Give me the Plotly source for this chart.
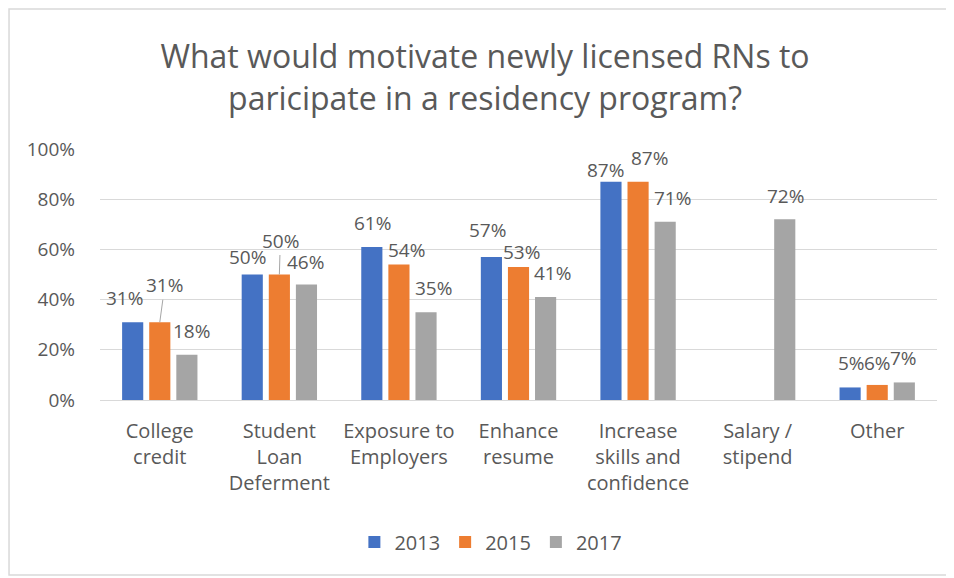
import plotly.graph_objects as go

# --- данные ---
categories = ["College credit", "Student Loan Deferment", "Exposure to Employers",
              "Enhance resume", "Increase skills and confidence", "Salary / stipend", "Other"]
tick_labels = ["College<br>credit", "Student<br>Loan<br>Deferment", "Exposure to<br>Employers",
               "Enhance<br>resume", "Increase<br>skills and<br>confidence", "Salary /<br>stipend", "Other"]
years = ["2013", "2015", "2017"]
v2013 = [0.31, 0.50, 0.61, 0.57, 0.87, None, 0.05]
v2015 = [0.31, 0.50, 0.54, 0.53, 0.87, None, 0.06]
v2017 = [0.18, 0.46, 0.35, 0.41, 0.71, 0.72, 0.07]
y_ticks = [0, 0.2, 0.4, 0.6, 0.8, 1.0]

COLORS = ["#4472C4", "#ED7D31", "#A5A5A5"]
TEXT = "#595959"
GRID = "#D9D9D9"
FONT = "Open Sans"

W, H = 954, 578
# страница сдвигает фигуру на 8 px (отступ body), поэтому поля уменьшены
M = dict(l=92, r=25, t=141, b=186)
BARGAP, GROUPGAP = 0.32, 0.22

# сдвиги подписей (dx, dy в пикселях от верха столбца), как в исходной диаграмме
label_shift = [
    [(-8, -24), (-5, -18), (1, -24), (-4, -27), (-5, -12), None, (1, -24)],
    [(5, -37), (1, -34), (8, -14), (3, -15), (11, -24), None, (0, -22)],
    [(5, -24), (-1, -23), (7, -24), (7, -24), (7, -24), (1, -23), (-1, -24)],
]
leader = {(1, 0), (1, 1)}  # подписи с выносной линией

series = [v2013, v2015, v2017]
fig = go.Figure()
for name, vals, col in zip(years, series, COLORS):
    fig.add_trace(go.Bar(x=categories, y=vals, name=name, marker_color=col,
                         marker_line_width=0))

# смещение столбца внутри группы
cat_w = (W - M["l"] - M["r"]) / len(categories)
slot = cat_w * (1 - BARGAP) / len(years)

annotations = []
for s, vals in enumerate(series):
    off = (s - 1) * slot
    for i, v in enumerate(vals):
        if v is None:
            continue
        dx, dy = label_shift[s][i]
        base = dict(x=categories[i], y=v, xref="x", yref="y", text=f"{round(v * 100)}%",
                    font=dict(family=FONT, size=19, color=TEXT))
        if (s, i) in leader:
            annotations.append(dict(base, showarrow=True, arrowhead=0, arrowwidth=1,
                                    arrowcolor="#A6A6A6", ax=dx, ay=dy, xshift=off,
                                    standoff=0, startstandoff=0))
        else:
            annotations.append(dict(base, showarrow=False, xanchor="center",
                                    yanchor="middle", xshift=off + dx, yshift=-dy))

fig.update_layout(
    width=W, height=H, margin=M,
    paper_bgcolor="white", plot_bgcolor="white",
    font=dict(family=FONT, size=19, color=TEXT),
    title=dict(text="What would motivate newly licensed RNs to<br>paricipate in a residency program?",
               x=0.5, xanchor="center", y=0.896, yanchor="middle",
               font=dict(family=FONT, size=32, color=TEXT)),
    barmode="group", bargap=BARGAP, bargroupgap=GROUPGAP,
    showlegend=True,
    legend=dict(orientation="h", x=0.467, xanchor="center", y=-0.566, yanchor="middle",
                font=dict(size=20, color=TEXT), itemwidth=30, traceorder="normal"),
    annotations=annotations,
    shapes=[dict(type="rect", xref="paper", yref="paper", x0=-0.1087, x1=1.0119,
                 y0=-0.697, y1=1.558, line=dict(color=GRID, width=1.5), layer="below")],
)
fig.update_xaxes(tickvals=categories, ticktext=tick_labels, showgrid=False,
                 showline=True, linecolor=GRID, linewidth=1, ticks="",
                 ticklabelstandoff=13, tickfont=dict(size=20, color=TEXT))
fig.update_yaxes(range=[0, 1], tickvals=y_ticks, tickformat=".0%", showgrid=True,
                 gridcolor=GRID, gridwidth=1, zeroline=False, showline=False, ticks="",
                 ticklabelstandoff=24, tickfont=dict(size=19, color=TEXT))

fig.write_html("out.html")
